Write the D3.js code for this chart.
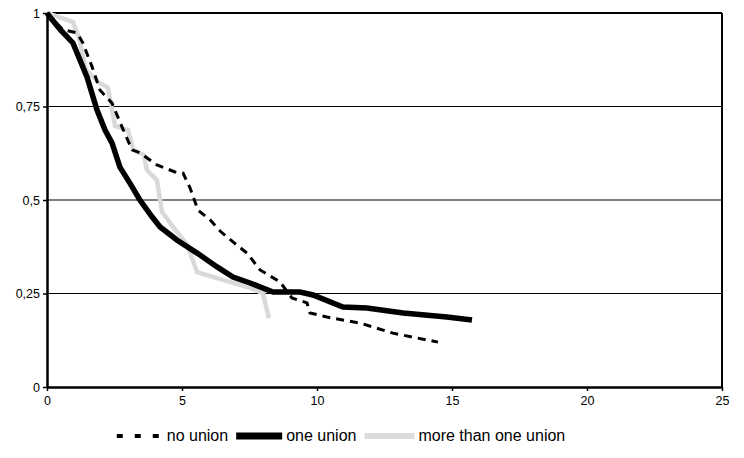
<!DOCTYPE html>
<html>
<head>
<meta charset="utf-8">
<script src="https://cdn.jsdelivr.net/npm/d3@7"></script>
<style>
  body { margin: 0; background: #fff; }
  svg { display: block; font-family: "Liberation Sans", Arial, sans-serif; }
</style>
</head>
<body>
<svg id="chart" width="744" height="458"></svg>
<script>
// survival curves, [time, proportion]
var noUnion = [[0,1],[0.59,0.955],[1.11,0.947],[1.33,0.92],[1.67,0.856],[1.96,0.794],[2.41,0.759],
  [2.78,0.695],[3.15,0.634],[3.44,0.626],[4.07,0.594],[4.74,0.575],[5.04,0.572],[5.3,0.532],
  [5.59,0.473],[6.04,0.447],[6.41,0.417],[6.89,0.388],[7.41,0.358],[7.89,0.313],[8.63,0.281],
  [9.07,0.238],[9.63,0.225],[9.74,0.198],[10.37,0.187],[11.59,0.171],[12.81,0.144],[14.48,0.12]];

var oneUnion = [[0,1],[0.11,0.989],[0.5,0.955],[0.96,0.92],[1.48,0.829],[1.85,0.741],[2.15,0.687],[2.41,0.652],
  [2.7,0.588],[3.07,0.545],[3.44,0.5],[3.89,0.455],[4.19,0.428],[4.81,0.393],[5.56,0.358],
  [6.3,0.321],[6.89,0.294],[7.52,0.278],[8.37,0.254],[9.37,0.254],[9.85,0.246],[10.96,0.214],
  [11.85,0.211],[13.19,0.198],[14.81,0.187],[15.74,0.179]];

var moreUnion = [[0,1],[0.96,0.976],[1.19,0.933],[1.44,0.848],[1.89,0.816],[2.26,0.8],[2.52,0.698],
  [3.0,0.687],[3.19,0.636],[3.59,0.62],[3.7,0.58],[4.07,0.553],[4.26,0.468],[4.67,0.428],
  [5.19,0.38],[5.56,0.307],[6.3,0.291],[7.52,0.265],[8.0,0.251],[8.22,0.184]];

var xTicks = [0, 5, 10, 15, 20, 25];
var yTicks = [0, 0.25, 0.5, 0.75, 1];
var gridTicks = [0.25, 0.5, 0.75];
var seriesNames = ['no union', 'one union', 'more than one union'];

var svg = d3.select('#chart');
var plotLeft = 47, plotRight = 722, plotTop = 13, plotBottom = 387;

var x = d3.scaleLinear().domain([0, 25]).range([plotLeft, plotRight]);
var y = d3.scaleLinear().domain([0, 1]).range([plotBottom, plotTop]);

// gridlines
svg.selectAll('.grid')
    .data(gridTicks)
    .enter().append('line')
    .attr('class', 'grid')
    .attr('x1', plotLeft).attr('x2', plotRight)
    .attr('y1', function(d){ return y(d); })
    .attr('y2', function(d){ return y(d); })
    .attr('stroke', '#000').attr('stroke-width', 1);

// top and right border
svg.append('line').attr('x1', plotLeft).attr('x2', plotRight).attr('y1', plotTop).attr('y2', plotTop)
    .attr('stroke', '#000').attr('stroke-width', 2);
svg.append('line').attr('x1', plotRight).attr('x2', plotRight).attr('y1', plotTop).attr('y2', plotBottom)
    .attr('stroke', '#000').attr('stroke-width', 2);

var line = d3.line()
    .x(function(d){ return x(d[0]); })
    .y(function(d){ return y(d[1]); });

svg.append('path').datum(moreUnion)
    .attr('d', line).attr('fill', 'none')
    .attr('stroke', '#d9d9d9').attr('stroke-width', 4.5);

svg.append('path').datum(oneUnion)
    .attr('d', line).attr('fill', 'none')
    .attr('stroke', '#000').attr('stroke-width', 5.5);

svg.append('path').datum(noUnion)
    .attr('d', line).attr('fill', 'none')
    .attr('stroke', '#000').attr('stroke-width', 3)
    .attr('stroke-dasharray', '8,6');

// axes
var fmt = function(d){ return String(d).replace('.', ','); };

var yAxis = svg.append('g')
    .attr('transform', 'translate(' + plotLeft + ',0)')
    .call(d3.axisLeft(y).tickValues(yTicks).tickFormat(fmt).tickSizeInner(4).tickSizeOuter(0).tickPadding(3));

var xAxis = svg.append('g')
    .attr('transform', 'translate(0,' + plotBottom + ')')
    .call(d3.axisBottom(x).tickValues(xTicks).tickFormat(fmt).tickSizeInner(4).tickSizeOuter(0).tickPadding(5));

[yAxis, xAxis].forEach(function(g){
    g.select('.domain').attr('stroke', '#000').attr('stroke-width', 2.5);
    g.selectAll('.tick line').attr('stroke', '#000').attr('stroke-width', 1.5);
    g.selectAll('.tick text')
        .attr('fill', '#000')
        .style('font-family', '"Liberation Sans", Arial, sans-serif')
        .style('font-size', '12.5px');
});

// legend
var legend = svg.append('g');
var legendY = 441;
var cursor = 0;
var styles = [
    {stroke: '#000', width: 4, dash: '6,12', len: 46},
    {stroke: '#000', width: 7, dash: null, len: 46},
    {stroke: '#dcdcdc', width: 6, dash: null, len: 50}
];

seriesNames.forEach(function(name, i){
    var st = styles[i];
    legend.append('line')
        .attr('x1', cursor).attr('x2', cursor + st.len)
        .attr('y1', legendY - 5).attr('y2', legendY - 5)
        .attr('stroke', st.stroke).attr('stroke-width', st.width)
        .attr('stroke-dasharray', st.dash);
    cursor += st.len + 4;
    var t = legend.append('text')
        .attr('x', cursor).attr('y', legendY)
        .style('font-size', '16px')
        .attr('fill', '#000')
        .text(name);
    cursor += t.node().getComputedTextLength() + 8;
});
cursor -= 8;
legend.attr('transform', 'translate(' + (341 - cursor / 2) + ',0)');
</script>
</body>
</html>
